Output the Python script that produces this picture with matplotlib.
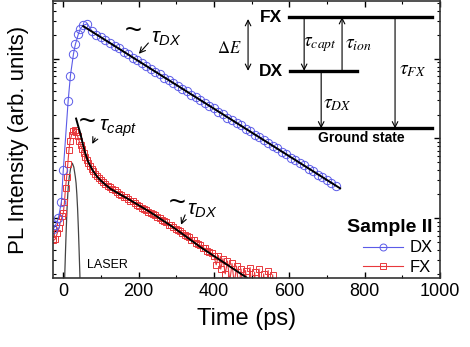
import numpy as np
import matplotlib
matplotlib.use("Agg")
import matplotlib.pyplot as plt
from matplotlib.lines import Line2D

plt.rcParams['font.family'] = ['Liberation Sans', 'DejaVu Sans']
plt.rcParams['mathtext.fontset'] = 'custom'
plt.rcParams['mathtext.it'] = 'Liberation Sans:italic'
plt.rcParams['mathtext.rm'] = 'Liberation Sans'

# DX (donor-bound exciton) transient, counts
dx_t = [-26, -21, -13, -5, 0, 13, 19, 27, 32, 40, 45, 53, 64,
        76, 88, 100, 112, 124, 136, 148, 160, 172, 184, 196, 208, 220,
        232, 244, 256, 268, 280, 292, 304, 316, 328, 340, 352, 364, 376,
        388, 400, 412, 424, 436, 448, 460, 472, 484, 496, 508, 520, 532,
        544, 556, 568, 580, 592, 604, 616, 628, 640, 652, 664, 676, 688,
        700, 712, 724]
dx_I = [7.4, 8.1, 10, 16, 40, 299, 617, 1148, 1514, 2042, 2371, 2630, 2754,
        2230, 2010, 1880, 1700, 1590, 1440, 1350, 1220, 1150, 1030, 970, 880,
        820, 740, 690, 640, 580, 545, 490, 462, 418, 392, 352, 333, 300,
        282, 255, 240, 215, 203, 183, 172, 155, 147, 131, 124, 111, 105,
        94.5, 89.0, 80.0, 75.5, 68.0, 64.0, 57.5, 54.5, 48.8, 46.0, 41.5,
        39.0, 35.0, 33.0, 29.8, 28.0, 25.5]

# FX (free exciton) transient, counts
fx_t = [-26, -21, -16, -11, -8, -3, 0, 3, 6, 9, 12, 15, 18, 22, 26, 30, 34,
        38, 42, 46, 50, 54, 58, 62, 66, 70, 75, 80, 85, 90, 95, 100, 106,
        112, 118, 124, 130, 136, 142, 148, 154, 160, 166, 172, 178, 184, 190,
        196, 202, 208, 214, 220, 226, 232, 238, 244, 250, 256, 262, 268, 274,
        280, 286, 292, 298, 304, 310, 316, 322, 328, 334, 340, 346, 352, 358,
        364, 370, 376, 382, 388, 394, 400, 406, 412, 418, 424, 430, 436, 442,
        448, 454, 460, 466, 472, 478, 484, 490, 496, 502, 508, 514, 520, 526,
        532, 538, 544, 550, 556, 562]
fx_I = [5.25, 5.5, 6.46, 7.59, 8.91, 10.5, 11.5, 15.8, 24.0, 33.1, 47.9, 70.8,
        93.3, 110, 123, 126, 120, 107, 93.3, 83.2, 74.1, 66.1, 58.9, 53.7, 49.0,
        45.7, 41.7, 38.9, 36.3, 33.9, 31.6, 30.2, 28.2, 26.9, 25.7, 24.5, 23.4,
        22.4, 21.4, 20.4, 19.5, 18.6, 18.2, 17.4, 16.6, 16.2, 15.5, 14.8, 14.1,
        13.5, 13.2, 12.6, 12.0, 11.7, 11.2, 11.0, 10.2, 10.0, 9.55, 9.12, 8.91,
        8.32, 8.13, 7.76, 7.41, 7.08, 6.92, 6.61, 6.17, 6.03, 5.75, 5.37, 5.25,
        4.90, 4.68, 4.57, 4.27, 4.17, 3.89, 3.72, 3.63, 3.31,
        2.6, 3.4, 2.3, 3.1, 2.0, 2.9, 1.6, 2.7, 1.5, 2.5, 1.3, 2.3, 1.1, 2.2,
        0.9, 2.4, 1.0, 2.1, 0.8, 2.3, 0.7, 2.0, 0.9, 2.2, 0.6, 1.95, 0.5]

# fits
dx_fit_t = [53, 735]
dx_fit_I = [2570, 23.7]
fx_fit_t = [34, 40, 45, 52, 58, 66, 78, 90, 100, 112, 125, 150, 178, 231, 284,
            310, 363, 416, 456, 488, 500]
fx_fit_I = [178, 141, 117, 85.1, 66.1, 51.3, 39.8, 33.1, 29.5, 26.3, 23.4,
            20.0, 16.8, 11.9, 8.13, 6.68, 4.37, 2.99, 2.24, 1.78, 1.6]

# laser pulse
laser_t = [2, 4, 6, 8, 10, 12, 14, 16, 20, 24, 28, 32, 34, 36, 38, 40, 42, 44, 46]
laser_I = [0.89, 2.0, 3.98, 7.6, 13.2, 20.0, 27.5, 33.1, 43.7, 49.0, 43.7, 33.1,
           27.5, 20.0, 13.2, 7.6, 3.98, 2.0, 0.89]

blue = '#5b5be8'
red = '#e8383c'

fig = plt.figure(figsize=(4.7, 3.47), dpi=100)
ax = fig.add_axes([0.113, 0.199, 0.823, 0.798])

ax.plot(laser_t, laser_I, color='#444444', lw=0.9)
ax.plot(fx_t, fx_I, color=red, lw=0.8, marker='s', ms=5, mfc='none', mew=0.7)
ax.plot(dx_t, dx_I, color=blue, lw=0.8, marker='o', ms=6, mfc='none', mew=0.7)
ax.plot(dx_fit_t, dx_fit_I, color='black', lw=1.4)
ax.plot(fx_fit_t, fx_fit_I, color='black', lw=1.4)

ax.set_yscale('log')
ax.set_xlim(-27, 1000)
ax.set_ylim(10 ** 0.25, 10 ** 3.725)
ax.set_xticks([0, 200, 400, 600, 800, 1000])
ax.set_xticks([100, 300, 500, 700, 900], minor=True)
ax.yaxis.set_major_formatter(plt.NullFormatter())
ax.yaxis.set_minor_formatter(plt.NullFormatter())
ax.tick_params(which='both', direction='in', top=True, right=True, labelsize=13)
ax.tick_params(which='major', length=4, width=1)
ax.tick_params(which='minor', length=2.5, width=0.8)
for s in ax.spines.values():
    s.set_linewidth(1.2)
    s.set_color('#333333')

ax.set_xlabel('Time (ps)', fontsize=17, labelpad=6)
ax.set_ylabel('PL Intensity (arb. units)', fontsize=16, labelpad=14)

# curve annotations
tr = ax.transAxes
ax.text(0.206, 0.892, '~', fontsize=21, ha='center', va='center', transform=tr)
ax.text(0.252, 0.865, r'$\tau_{DX}$', fontsize=15, ha='left', va='center', transform=tr)
ax.annotate('', xy=(0.217, 0.802), xytext=(0.251, 0.856), xycoords=tr,
            arrowprops=dict(arrowstyle='->', lw=0.8, color='black'))
ax.text(0.088, 0.562, '~', fontsize=21, ha='center', va='center', transform=tr)
ax.text(0.119, 0.540, r'$\tau_{capt}$', fontsize=15, ha='left', va='center', transform=tr)
ax.annotate('', xy=(0.098, 0.475), xytext=(0.112, 0.514), xycoords=tr,
            arrowprops=dict(arrowstyle='->', lw=0.8, color='black'))
ax.text(0.320, 0.270, '~', fontsize=21, ha='center', va='center', transform=tr)
ax.text(0.347, 0.245, r'$\tau_{DX}$', fontsize=15, ha='left', va='center', transform=tr)
ax.annotate('', xy=(0.328, 0.183), xytext=(0.344, 0.237), xycoords=tr,
            arrowprops=dict(arrowstyle='->', lw=0.8, color='black'))
ax.text(0.140, 0.047, 'LASER', fontsize=9, ha='center', va='center', transform=tr)

# energy level diagram
ax.plot([0.610, 0.979], [0.942, 0.942], color='black', lw=2.4, transform=tr)
ax.plot([0.612, 0.786], [0.748, 0.748], color='black', lw=2.4, transform=tr)
ax.plot([0.610, 0.979], [0.540, 0.540], color='black', lw=2.4, transform=tr)
arr = dict(arrowstyle='->', lw=0.8, color='black', shrinkA=0, shrinkB=0)
ax.annotate('', xy=(0.649, 0.748), xytext=(0.649, 0.942), xycoords=tr, arrowprops=arr)
ax.annotate('', xy=(0.747, 0.942), xytext=(0.747, 0.748), xycoords=tr, arrowprops=arr)
ax.annotate('', xy=(0.693, 0.540), xytext=(0.693, 0.748), xycoords=tr, arrowprops=arr)
ax.annotate('', xy=(0.884, 0.540), xytext=(0.884, 0.942), xycoords=tr, arrowprops=arr)
ax.annotate('', xy=(0.504, 0.748), xytext=(0.504, 0.935), xycoords=tr,
            arrowprops=dict(arrowstyle='<->', lw=0.8, color='black', shrinkA=0, shrinkB=0))
ax.text(0.690, 0.842, r'$\tau_{capt}$', fontsize=14, ha='center', va='center',
        transform=tr, math_fontfamily='stix')
ax.text(0.790, 0.842, r'$\tau_{ion}$', fontsize=14, ha='center', va='center',
        transform=tr, math_fontfamily='stix')
ax.text(0.736, 0.626, r'$\tau_{DX}$', fontsize=14, ha='center', va='center',
        transform=tr, math_fontfamily='stix')
ax.text(0.930, 0.748, r'$\tau_{FX}$', fontsize=14, ha='center', va='center',
        transform=tr, math_fontfamily='stix')
ax.text(0.455, 0.831, r'$\Delta E$', fontsize=12, ha='center', va='center',
        transform=tr, math_fontfamily='stix')
ax.text(0.563, 0.942, 'FX', fontsize=12.5, fontweight='bold', ha='center', va='center', transform=tr)
ax.text(0.563, 0.745, 'DX', fontsize=12.5, fontweight='bold', ha='center', va='center', transform=tr)
ax.text(0.796, 0.504, 'Ground state', fontsize=10, fontweight='bold', ha='center', va='center',
        transform=tr)

handles = [Line2D([], [], color=blue, lw=0.8, marker='o', ms=5, mfc='none', mew=0.7),
           Line2D([], [], color=red, lw=0.8, marker='s', ms=4.5, mfc='none', mew=0.7)]
leg = ax.legend(handles, ['DX', 'FX'], title='Sample II', loc='lower right',
                bbox_to_anchor=(0.982, 0.012), frameon=False, alignment='right',
                title_fontproperties={'weight': 'bold', 'size': 14}, fontsize=12,
                handlelength=2.4, handletextpad=0.4, labelspacing=0.25,
                borderpad=0, borderaxespad=0)

fig.savefig('out.png', dpi=100)
